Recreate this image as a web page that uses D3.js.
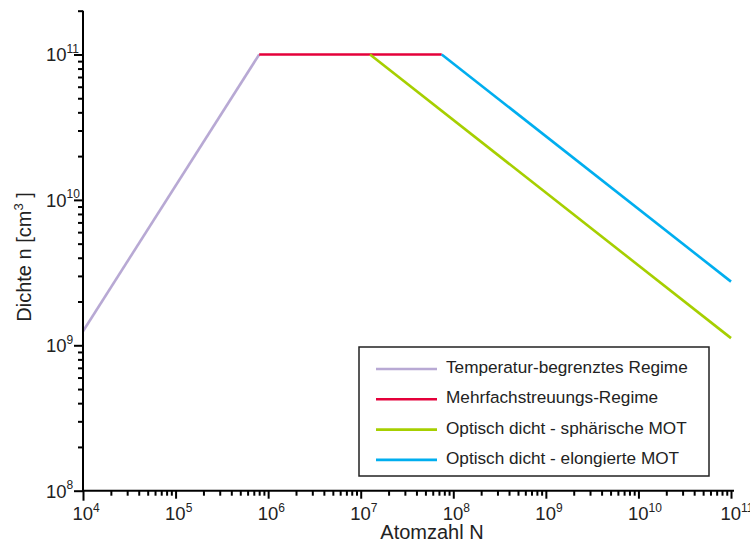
<!DOCTYPE html>
<html>
<head>
<meta charset="utf-8">
<script src="https://cdn.jsdelivr.net/npm/d3@7"></script>
<style>
  body { margin: 0; background: #fff; }
  svg { font-family: "Liberation Sans", Arial, sans-serif; }
</style>
</head>
<body>
<svg id="chart" width="750" height="541"></svg>
<script>
// Series: [N, n] corner points
const seriesNames = ["Temperatur-begrenztes Regime", "Mehrfachstreuungs-Regime", "Optisch dicht - sphärische MOT", "Optisch dicht - elongierte MOT"];
const seriesColors = ["#b8a9d4", "#e4003a", "#a6cf00", "#00aeef"];
const tempRegime = [[1e4, 1.25e9], [8e5, 1e11]];
const multiScatter = [[8e5, 1e11], [7.5e7, 1e11]];
const sphericalMot = [[1.26e7, 1e11], [1e11, 1.12e9]];
const elongatedMot = [[7.5e7, 1e11], [1e11, 2.74e9]];
const allSeries = [tempRegime, multiScatter, sphericalMot, elongatedMot];

const xExponents = [4, 5, 6, 7, 8, 9, 10, 11];
const yExponents = [8, 9, 10, 11];
const xTitle = "Atomzahl N";
const yTitle = "Dichte n [cm";

const margin = { top: 10.7, right: 19, bottom: 50.3, left: 83 };
const width = 750, height = 541;

const svg = d3.select("#chart");

const x = d3.scaleLog().domain([1e4, 1e11]).range([margin.left, width - margin.right]);
const y = d3.scaleLog().domain([1e8, 2e11]).range([height - margin.bottom, margin.top]);

// minor + major tick positions
const minorTicks = (lo, hi) => {
  const out = [];
  for (let e = lo; e <= hi; e++) for (let m = 1; m < 10; m++) out.push(m * Math.pow(10, e));
  return out;
};
const xTicks = minorTicks(4, 10).concat([1e11]);
const yTicks = minorTicks(8, 11).filter(v => v <= 2e11);
const isMajor = v => Math.abs(Math.log10(v) - Math.round(Math.log10(v))) < 1e-9;

// lines
const line = d3.line().x(d => x(d[0])).y(d => y(d[1]));
svg.append("g")
  .selectAll("path")
  .data(allSeries)
  .join("path")
  .attr("d", line)
  .attr("fill", "none")
  .attr("stroke", (d, i) => seriesColors[i])
  .attr("stroke-width", 2.6);

// x axis
const xAxis = svg.append("g")
  .attr("transform", `translate(0,${y(1e8)})`)
  .call(d3.axisBottom(x).tickValues(xTicks).tickFormat("").tickSizeOuter(0));
xAxis.select(".domain").attr("stroke-width", 2).attr("d", `M${x(1e4)},0H${x(1e11) + 3}`);
xAxis.selectAll(".tick line")
  .attr("stroke-width", 2)
  .attr("y2", d => d === 1e4 ? 10 : (isMajor(d) ? 8 : 5));

// y axis
const yAxis = svg.append("g")
  .attr("transform", `translate(${x(1e4)},0)`)
  .call(d3.axisLeft(y).tickValues(yTicks).tickFormat("").tickSizeOuter(0));
yAxis.select(".domain").attr("stroke-width", 2).attr("d", `M0,${y(1e8) + 1}V${y(2e11)}`);
yAxis.selectAll(".tick line")
  .attr("stroke-width", 2)
  .attr("x2", d => isMajor(d) ? -9 : -5);

// x tick labels
const xl = svg.append("g").selectAll("text")
  .data(xExponents)
  .join("text")
  .attr("x", d => x(Math.pow(10, d)) - 10.5)
  .attr("y", 520)
  .attr("font-size", 18.5)
  .attr("fill", "#222");
xl.append("tspan").text("10");
xl.append("tspan").attr("dy", -8.5).attr("font-size", 12).text(d => d);

// y tick labels
const yl = svg.append("g").selectAll("text")
  .data(yExponents)
  .join("text")
  .attr("x", 46)
  .attr("y", d => y(Math.pow(10, d)) + 7)
  .attr("font-size", 18.5)
  .attr("fill", "#222");
yl.append("tspan").text("10");
yl.append("tspan").attr("dy", -8.5).attr("font-size", 12).text(d => d);

// axis titles
svg.append("text")
  .attr("x", 432)
  .attr("y", 539)
  .attr("text-anchor", "middle")
  .attr("font-size", 20)
  .attr("fill", "#222")
  .text(xTitle);

const yt = svg.append("text")
  .attr("transform", `translate(30.5,257) rotate(-90)`)
  .attr("text-anchor", "middle")
  .attr("font-size", 20)
  .attr("fill", "#222");
yt.append("tspan").text(yTitle);
yt.append("tspan").attr("dy", -8).attr("font-size", 13).text("3");
yt.append("tspan").attr("dy", 8).text(" ]");

// legend
const legend = svg.append("g").attr("transform", "translate(359,347)");
legend.append("rect")
  .attr("width", 350)
  .attr("height", 129)
  .attr("fill", "#fff")
  .attr("stroke", "#222")
  .attr("stroke-width", 1.5);
const rows = legend.selectAll("g")
  .data(seriesNames)
  .join("g")
  .attr("transform", (d, i) => `translate(0,${22 + i * 30.3})`);
rows.append("line")
  .attr("x1", 17).attr("x2", 78)
  .attr("stroke", (d, i) => seriesColors[i])
  .attr("stroke-width", 2.6);
rows.append("text")
  .attr("x", 87)
  .attr("y", 4)
  .attr("font-size", 17.2)
  .attr("fill", "#222")
  .text(d => d);
</script>
</body>
</html>
